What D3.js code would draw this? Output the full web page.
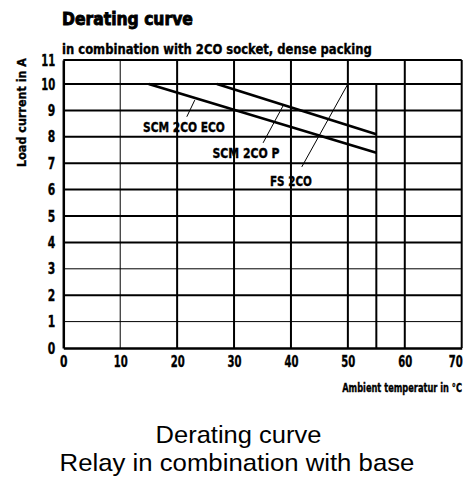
<!DOCTYPE html>
<html><head><meta charset="utf-8">
<script src="https://cdn.jsdelivr.net/npm/d3@7/dist/d3.min.js"></script>
<style>
body{margin:0;background:#fff}
svg{display:block}
.cond{font-family:"DejaVu Sans Condensed","DejaVu Sans",sans-serif;font-weight:bold;fill:#000;stroke:#000;stroke-width:0.35px}
.cap{font-family:"Liberation Sans","Noto Sans",Arial,sans-serif;fill:#000}
</style>
</head><body>
<svg id="c" width="468" height="483"></svg>
<script>
// ---- data ----
const xTicks = [0, 10, 20, 30, 40, 50, 60, 70];
const yTicks = [0, 1, 2, 3, 4, 5, 6, 7, 8, 9, 10, 11];
const xExtraGrid = [55];            // extra vertical grid line (0..10 A only)
const thinXGrid = [10];
const thinYGrid = [1, 3];
const seriesNames = ["SCM 2CO ECO", "SCM 2CO P"];
const ecoTemp = [15, 55];
const ecoCurrent = [10, 7.4];
const pTemp = [27, 55];
const pCurrent = [10, 8.1];
const labelNames = ["SCM 2CO ECO", "SCM 2CO P", "FS 2CO"];
const labelTemp = [21.2, 32.1, 40.0];
const labelCurrent = [8.2, 7.2, 6.15];
const leaderFromTemp = [21.7, 35.1, 41.9];
const leaderFromCurrent = [8.76, 7.77, 6.86];
const leaderToTemp = [23.1, 38.6, 50];
const leaderToCurrent = [9.39, 9.17, 10];

// ---- layout / style ----
const labelWidths = [82, 67, 42];
const svg = d3.select("#c");
const x = d3.scaleLinear().domain([0, 70]).range([63.3, 461.7]);
const y = d3.scaleLinear().domain([0, 10, 11]).range([348, 84, 60]);

// squeeze a text horizontally to a given width (keeps its anchor point)
function fit(sel, w, pre) {
  sel.each(function () {
    const t = d3.select(this);
    const n = this.getComputedTextLength();
    const s = n > 0 ? w / n : 1;
    const x0 = +t.attr("x") || 0, y0 = +t.attr("y") || 0;
    t.attr("x", 0).attr("y", 0)
     .attr("transform", `${pre || ""} translate(${x0},${y0}) scale(${s},1)`);
  });
}

// titles
svg.append("text").attr("class", "cond").attr("x", 62).attr("y", 25)
  .attr("font-size", 18.5).style("stroke-width", "0.9px").text("Derating curve").call(fit, 131);
svg.append("text").attr("class", "cond").attr("x", 62).attr("y", 54)
  .attr("font-size", 14).text("in combination with 2CO socket, dense packing").call(fit, 310);

// grid
const g = svg.append("g");
g.selectAll("line.h").data(yTicks.filter(d => d > 0)).join("line")
  .attr("x1", x(0)).attr("x2", x(70)).attr("y1", d => y(d)).attr("y2", d => y(d))
  .attr("stroke", "#000").attr("stroke-width", d => thinYGrid.includes(d) ? 1 : 2);
g.selectAll("line.v").data(xTicks.filter(d => d > 0)).join("line")
  .attr("y1", y(0)).attr("y2", y(11)).attr("x1", d => x(d)).attr("x2", d => x(d))
  .attr("stroke", "#000").attr("stroke-width", d => thinXGrid.includes(d) ? 1 : 2);
g.selectAll("line.e").data(xExtraGrid).join("line")
  .attr("y1", y(0)).attr("y2", y(10)).attr("x1", d => x(d)).attr("x2", d => x(d))
  .attr("stroke", "#000").attr("stroke-width", 2);

// axes
const xAxis = d3.axisBottom(x).tickValues(xTicks).tickSize(0).tickPadding(5);
const yAxis = d3.axisLeft(y).tickValues(yTicks).tickSize(0).tickPadding(8);
const gx = svg.append("g").attr("transform", `translate(0,${y(0)})`).call(xAxis);
const gy = svg.append("g").attr("transform", `translate(${x(0)},0)`).call(yAxis);
gx.selectAll("text").attr("dy", "0.9em");
gx.selectAll("text").filter(d => d === 70).attr("text-anchor", "end").attr("x", 0.5);
[gx, gy].forEach(a => {
  a.select(".domain").attr("stroke", "#000").attr("stroke-width", 2.5);
  a.selectAll("text").attr("class", "cond").attr("font-size", 16).attr("fill", "#000")
    .each(function (d) {
      d3.select(this).call(fit, String(d).length === 1 ? 7.5 : 14);
    });
});

// axis titles
svg.append("text").attr("class", "cond").attr("font-size", 12.5)
  .attr("text-anchor", "end").attr("x", 462).attr("y", 392).text("Ambient temperatur in °C")
  .call(fit, 120);
svg.append("text").attr("class", "cond").attr("font-size", 12.5)
  .attr("text-anchor", "middle").text("Load current in A")
  .call(fit, 109, "translate(26,112.5) rotate(-90)");

// series
const line = d3.line().x(d => x(d[0])).y(d => y(d[1]));
const series = [d3.zip(ecoTemp, ecoCurrent), d3.zip(pTemp, pCurrent)];
svg.selectAll("path.s").data(series).join("path")
  .attr("d", line).attr("fill", "none").attr("stroke", "#000").attr("stroke-width", 2.6);

// leaders and labels
svg.selectAll("line.l").data(labelNames).join("line")
  .attr("x1", (d, i) => x(leaderFromTemp[i])).attr("y1", (d, i) => y(leaderFromCurrent[i]))
  .attr("x2", (d, i) => x(leaderToTemp[i])).attr("y2", (d, i) => y(leaderToCurrent[i]))
  .attr("stroke", "#000").attr("stroke-width", 1);
svg.selectAll("text.lab").data(labelNames).join("text")
  .attr("class", "cond").attr("font-size", 14).attr("text-anchor", "middle")
  .attr("x", (d, i) => x(labelTemp[i])).attr("y", (d, i) => y(labelCurrent[i]))
  .text(d => d)
  .each(function (d, i) { d3.select(this).call(fit, labelWidths[i]); });

// caption
svg.append("text").attr("class", "cap").attr("font-size", 24).attr("text-anchor", "middle")
  .attr("x", 238.5).attr("y", 443).text("Derating curve").call(fit, 166);
svg.append("text").attr("class", "cap").attr("font-size", 24).attr("text-anchor", "middle")
  .attr("x", 237).attr("y", 471).text("Relay in combination with base").call(fit, 355);
</script>
</body></html>
